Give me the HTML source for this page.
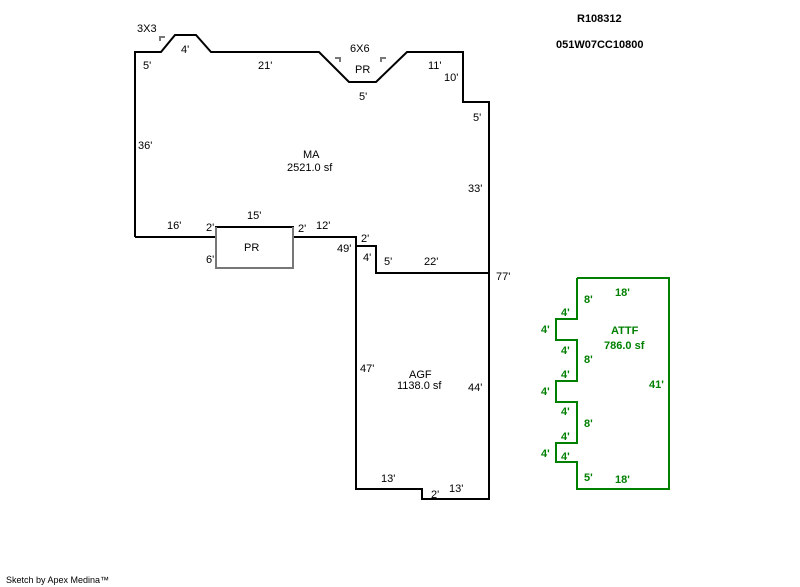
<!DOCTYPE html>
<html><head><style>
html,body{margin:0;padding:0;background:#fff;}
svg{display:block;}
text{font-family:"Liberation Sans",sans-serif;font-size:11px;fill:#000;}
.g{fill:#008000;font-weight:bold;}
.b{font-weight:bold;}
</style></head><body>
<svg width="800" height="587" viewBox="0 0 800 587" xmlns="http://www.w3.org/2000/svg">
<g fill="none" stroke="#000" stroke-width="2">
<polyline points="135,237 135,52 161,52 175,35 196,35 211,52 319,52 349,82 376,82 407,52 463,52 463,102 489,102 489,499 422,499 422,489 356,489 356,246 376,246 376,273 489,273"/>
<polyline points="135,237 216,237 216,227 293,227 293,237 356,237 356,246"/>
</g>
<polyline points="216,227 216,268 293,268 293,227" fill="none" stroke="#777" stroke-width="2"/>
<g fill="none" stroke="#777" stroke-width="2">
<polyline points="160,41 160,37 165,37"/>
<polyline points="335,58 340,58 340,62"/>
<polyline points="381,62 381,58 386,58"/>
</g>
<polyline points="577,278 669,278 669,489 577,489 577,462 556,462 556,443 577,443 577,402 556,402 556,381 577,381 577,340 556,340 556,319 577,319 577,278" fill="none" stroke="#008000" stroke-width="2"/>
<text x="137" y="32">3X3</text>
<text x="181" y="53">4'</text>
<text x="143" y="69">5'</text>
<text x="258" y="69">21'</text>
<text x="350" y="52">6X6</text>
<text x="355" y="73">PR</text>
<text x="359" y="100">5'</text>
<text x="428" y="69">11'</text>
<text x="444" y="81">10'</text>
<text x="473" y="121">5'</text>
<text x="138" y="149">36'</text>
<text x="303" y="158">MA</text>
<text x="287" y="171">2521.0 sf</text>
<text x="468" y="192">33'</text>
<text x="167" y="229">16'</text>
<text x="247" y="219">15'</text>
<text x="206" y="231">2'</text>
<text x="298" y="232">2'</text>
<text x="316" y="229">12'</text>
<text x="361" y="242">2'</text>
<text x="337" y="252">49'</text>
<text x="244" y="251">PR</text>
<text x="206" y="263">6'</text>
<text x="363" y="261">4'</text>
<text x="384" y="265">5'</text>
<text x="424" y="265">22'</text>
<text x="496" y="280">77'</text>
<text x="360" y="372">47'</text>
<text x="409" y="378">AGF</text>
<text x="397" y="389">1138.0 sf</text>
<text x="468" y="391">44'</text>
<text x="381" y="482">13'</text>
<text x="431" y="498">2'</text>
<text x="449" y="492">13'</text>
<text class="b" x="577" y="22">R108312</text>
<text class="b" x="556" y="48">051W07CC10800</text>
<text class="g" x="615" y="296">18'</text>
<text class="g" x="584" y="303">8'</text>
<text class="g" x="561" y="316">4'</text>
<text class="g" x="541" y="333">4'</text>
<text class="g" x="611" y="334">ATTF</text>
<text class="g" x="604" y="349">786.0 sf</text>
<text class="g" x="561" y="354">4'</text>
<text class="g" x="584" y="363">8'</text>
<text class="g" x="561" y="378">4'</text>
<text class="g" x="541" y="395">4'</text>
<text class="g" x="649" y="388">41'</text>
<text class="g" x="561" y="415">4'</text>
<text class="g" x="584" y="427">8'</text>
<text class="g" x="561" y="440">4'</text>
<text class="g" x="541" y="457">4'</text>
<text class="g" x="561" y="460">4'</text>
<text class="g" x="584" y="481">5'</text>
<text class="g" x="615" y="483">18'</text>
<text x="6" y="583" style="font-size:9px">Sketch by Apex Medina™</text>
</svg>
</body></html>
